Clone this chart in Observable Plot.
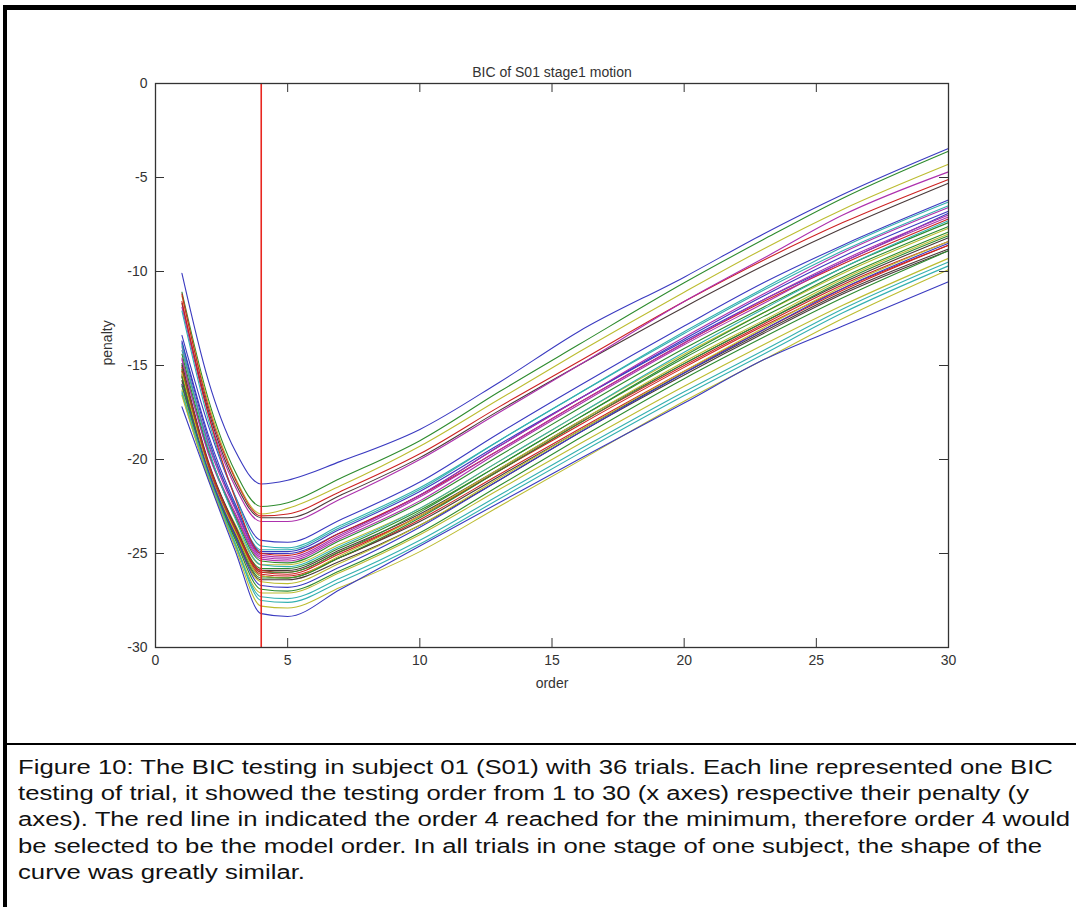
<!DOCTYPE html>
<html>
<head>
<meta charset="utf-8">
<script src="https://cdn.jsdelivr.net/npm/d3@7"></script>
<script src="https://cdn.jsdelivr.net/npm/@observablehq/plot@0.6"></script>
<style>
  html, body { margin: 0; padding: 0; background: #fff; }
  body { width: 1076px; height: 907px; position: relative; overflow: hidden; font-family: "Liberation Sans", Arial, sans-serif; }
  #outer { position: absolute; left: 3px; top: 5px; width: 1100px; height: 960px; border-top: 5px solid #000; border-left: 4px solid #000; box-sizing: border-box; }
  #divider { position: absolute; left: 7px; top: 743px; width: 1080px; height: 0; border-top: 2px solid #000; }
  #chart { position: absolute; left: 0; top: 0; }
  #caption { position: absolute; left: 18px; top: 754px; font-size: 20px; line-height: 26.2px; color: #111; }
  #caption div { white-space: nowrap; transform-origin: 0 50%; height: 26.2px; }
</style>
</head>
<body>
<div id="outer"></div>
<div id="chart"></div>
<div id="divider"></div>
<div id="caption"></div>
<script>
// ---- data ----
const orders = [1, 2, 3, 4, 5, 7, 10, 13, 16, 20, 23, 26, 30];
const xTicks = [0, 5, 10, 15, 20, 25, 30];
const yTicks = [0, -5, -10, -15, -20, -25, -30];
const selectedOrder = [4];
const chartTitle = "BIC of S01 stage1 motion";
const xLabel = "order";
const yLabel = "penalty";
const trialColors = [
  "b","g","y","r","k","m","b","c","c","b","b","r",
  "m","m","m","g","y","c","g","k","r","g","r","r",
  "k","y","g","k","y","b","g","y","c","c","y","b"
];
const penalties = [
  [-10.1,-15.8,-19.5,-21.3,-21.1,-20.1,-18.4,-15.9,-13.2,-10.3,-8.0,-5.9,-3.45],
  [-11.1,-16.8,-20.6,-22.5,-22.3,-21.0,-19.0,-16.4,-13.9,-10.6,-8.3,-6.1,-3.6],
  [-11.3,-17.0,-20.9,-22.9,-22.6,-21.4,-19.3,-16.8,-14.3,-11.1,-8.8,-6.7,-4.3],
  [-11.2,-17.2,-21.0,-23.0,-22.9,-21.7,-19.7,-17.2,-14.8,-11.6,-9.4,-7.4,-5.1],
  [-11.7,-17.4,-21.2,-23.1,-23.1,-21.9,-19.9,-17.4,-15.0,-11.9,-9.7,-7.7,-5.3],
  [-11.9,-17.6,-21.4,-23.3,-23.3,-22.1,-20.0,-17.5,-15.0,-11.6,-9.3,-7.0,-4.7],
  [-13.4,-18.2,-21.9,-24.3,-24.4,-23.2,-21.2,-18.6,-16.1,-12.9,-10.6,-8.6,-6.2],
  [-12.1,-17.9,-21.9,-24.6,-24.7,-23.5,-21.5,-19.0,-16.5,-13.3,-11.0,-8.9,-6.5],
  [-14.2,-19.1,-22.4,-24.8,-24.8,-23.6,-21.6,-19.0,-16.5,-13.2,-10.9,-8.7,-6.3],
  [-13.7,-18.7,-22.3,-24.9,-24.9,-23.7,-21.7,-19.2,-16.8,-13.7,-11.5,-9.5,-6.9],
  [-13.8,-18.9,-22.5,-25.0,-25.0,-23.9,-21.9,-19.3,-16.8,-13.6,-11.3,-9.2,-6.8],
  [-11.6,-17.6,-22.0,-25.0,-25.1,-23.9,-21.9,-19.5,-17.0,-13.8,-11.6,-9.6,-7.2],
  [-14.0,-19.2,-22.6,-25.1,-25.2,-24.0,-21.9,-19.3,-16.8,-13.5,-11.2,-9.0,-6.6],
  [-14.7,-19.6,-22.8,-25.2,-25.3,-24.1,-22.0,-19.5,-17.0,-13.8,-11.5,-9.4,-7.0],
  [-14.6,-19.7,-22.9,-25.3,-25.4,-24.2,-22.2,-19.6,-17.1,-13.9,-11.7,-9.5,-7.1],
  [-14.4,-19.5,-23.0,-25.4,-25.5,-24.3,-22.3,-19.8,-17.3,-14.1,-11.9,-9.8,-7.4],
  [-15.3,-20.3,-23.4,-25.6,-25.6,-24.5,-22.6,-20.1,-17.6,-14.4,-12.2,-10.1,-7.7],
  [-13.9,-19.4,-23.1,-25.6,-25.7,-24.6,-22.6,-20.1,-17.6,-14.3,-12.0,-9.8,-7.3],
  [-15.0,-20.2,-23.5,-25.8,-25.8,-24.7,-22.7,-20.3,-17.8,-14.6,-12.4,-10.3,-7.9],
  [-14.9,-20.1,-23.5,-25.9,-25.9,-24.8,-22.9,-20.5,-18.0,-14.9,-12.7,-10.6,-8.2],
  [-15.1,-20.2,-23.6,-25.9,-26.0,-24.9,-23.0,-20.6,-18.2,-15.1,-12.9,-10.9,-8.6],
  [-15.2,-20.4,-23.7,-26.0,-26.0,-24.9,-22.8,-20.3,-17.8,-14.5,-12.2,-10.0,-7.6],
  [-15.3,-20.4,-23.7,-26.0,-26.1,-25.0,-23.0,-20.6,-18.1,-15.0,-12.8,-10.7,-8.4],
  [-15.6,-20.7,-23.9,-26.1,-26.2,-25.2,-23.2,-20.8,-18.4,-15.3,-13.1,-11.0,-8.6],
  [-15.5,-20.6,-23.9,-26.2,-26.3,-25.2,-23.3,-20.9,-18.5,-15.4,-13.2,-11.1,-8.8],
  [-15.4,-20.5,-23.8,-26.2,-26.3,-25.1,-23.0,-20.5,-18.0,-14.8,-12.6,-10.4,-8.0],
  [-15.6,-20.8,-24.0,-26.3,-26.3,-25.2,-23.1,-20.6,-18.1,-14.9,-12.7,-10.5,-8.1],
  [-15.8,-20.9,-24.1,-26.4,-26.4,-25.4,-23.5,-21.1,-18.6,-15.5,-13.3,-11.2,-8.9],
  [-16.0,-21.0,-24.2,-26.5,-26.6,-25.5,-23.5,-21.0,-18.5,-15.3,-13.0,-10.8,-8.4],
  [-16.0,-20.6,-24.0,-26.7,-26.8,-25.7,-23.6,-21.1,-18.6,-15.4,-13.1,-10.9,-8.5],
  [-16.1,-20.8,-24.2,-26.9,-27.0,-25.9,-23.9,-21.4,-18.9,-15.7,-13.5,-11.4,-8.9],
  [-16.3,-20.9,-24.4,-27.1,-27.1,-26.0,-24.0,-21.6,-19.2,-16.1,-13.9,-11.8,-9.3],
  [-16.5,-21.0,-24.5,-27.3,-27.4,-26.3,-24.3,-21.9,-19.5,-16.4,-14.2,-12.0,-9.5],
  [-16.4,-20.8,-24.4,-27.5,-27.6,-26.5,-24.5,-22.1,-19.7,-16.6,-14.4,-12.2,-9.7],
  [-16.6,-21.0,-24.6,-27.8,-27.9,-26.8,-24.9,-22.5,-20.1,-16.9,-14.7,-12.5,-9.9],
  [-17.2,-21.1,-24.8,-28.2,-28.35,-26.9,-24.6,-22.3,-20.0,-17.0,-14.7,-12.9,-10.55]
];
const captionLines = [
  "Figure 10: The BIC testing in subject 01 (S01) with 36 trials. Each line represented one BIC",
  "testing of trial, it showed the testing order from 1 to 30 (x axes) respective their penalty (y",
  "axes). The red line in indicated the order 4 reached for the minimum, therefore order 4 would",
  "be selected to be the model order. In all trials in one stage of one subject, the shape of the",
  "curve was greatly similar."
];
// MATLAB default color order (as rendered)
const colorKeys = ["b","g","r","c","m","y","k"];
const colorValues = ["#3a3ac0","#2e8b2e","#cc2222","#33b0b0","#ad30ad","#bcbc30","#4a3a3a"];

// ---- build table ----
const rows = [];
penalties.forEach((vals, i) => {
  vals.forEach((v, j) => rows.push({trial: i + 1, order: orders[j], penalty: v, c: trialColors[i]}));
});

const W = 1076, H = 740, mL = 155, mR = 128, mT = 83, mB = 93;
const innerW = W - mL - mR, innerH = H - mT - mB, tick = 9;
const axisColor = "#333";

const chart = Plot.plot({
  width: W, height: H,
  marginLeft: mL, marginRight: mR, marginTop: mT, marginBottom: mB,
  x: {domain: [0, 30]},
  y: {domain: [-30, 0]},
  color: {domain: colorKeys, range: colorValues},
  style: {fontFamily: "'Liberation Sans', Arial, sans-serif", fontSize: "14px", color: "#333", background: "transparent"},
  marks: [
    Plot.line(rows, {x: "order", y: "penalty", z: "trial", stroke: "c", strokeWidth: 1.1, curve: "monotone-x"}),
    Plot.ruleX(selectedOrder, {stroke: "#e8261f", strokeWidth: 1.6}),
    Plot.frame({stroke: axisColor, strokeWidth: 1.3}),
    Plot.ruleX(xTicks, {insetTop: innerH - tick, stroke: axisColor}),
    Plot.ruleX(xTicks, {insetBottom: innerH - tick, stroke: axisColor}),
    Plot.ruleY(yTicks, {insetRight: innerW - tick, stroke: axisColor}),
    Plot.ruleY(yTicks, {insetLeft: innerW - tick, stroke: axisColor}),
    Plot.axisX(xTicks, {anchor: "bottom", tickSize: 0, tickPadding: 8, tickFormat: d => String(d), label: null}),
    Plot.axisY(yTicks, {anchor: "left", tickSize: 0, tickPadding: 8, tickFormat: d => String(d), label: null}),
    Plot.text([chartTitle], {frameAnchor: "top", dy: -16, fontSize: 14, fill: "#333"}),
    Plot.text([xLabel], {frameAnchor: "bottom", dy: 40, fontSize: 14, fill: "#333"}),
    Plot.text([yLabel], {frameAnchor: "left", dx: -48, rotate: -90, fontSize: 14, fill: "#333"})
  ]
});
document.getElementById("chart").appendChild(chart);

// ---- caption ----
const cap = document.getElementById("caption");
const divs = captionLines.map(t => { const d = document.createElement("div"); d.textContent = t; cap.appendChild(d); return d; });
const targetW = 1052;
const scales = divs.slice(0, 4).map(d => { const r = d.getBoundingClientRect(); return targetW / r.width; });
const avg = scales.reduce((a, b) => a + b, 0) / scales.length;
divs.forEach((d, i) => { d.style.transform = `scaleX(${i < 4 ? scales[i] : avg})`; });
</script>
</body>
</html>
